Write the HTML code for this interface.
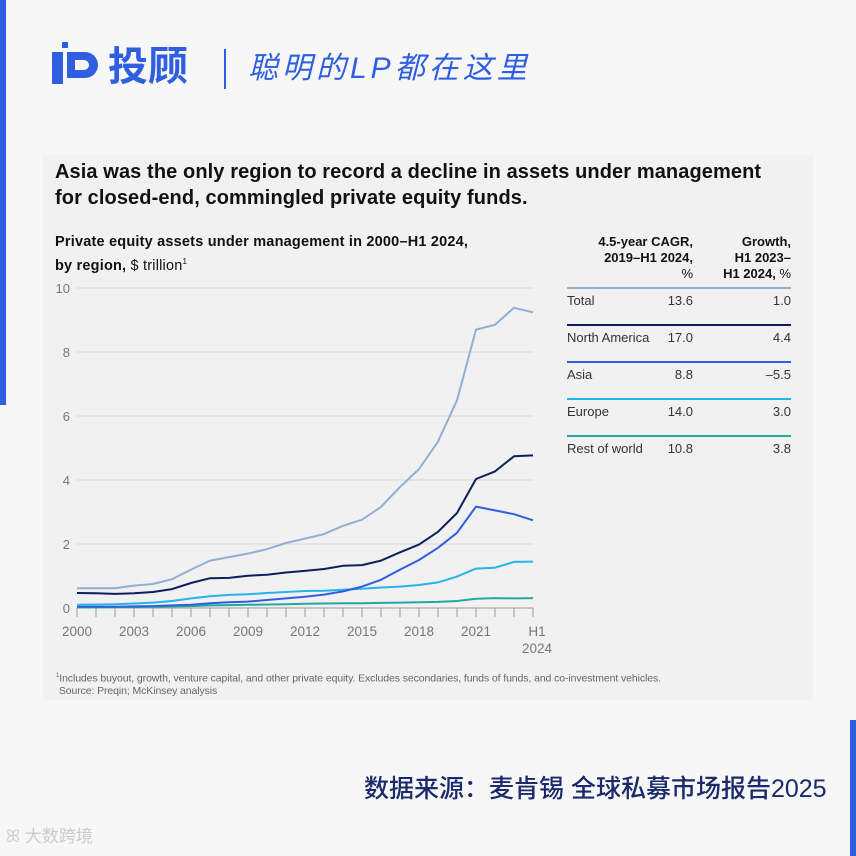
<!DOCTYPE html>
<html><head><meta charset="utf-8"><style>
*{margin:0;padding:0;box-sizing:border-box}
body{width:856px;height:856px;background:#f7f7f7;position:relative;overflow:hidden;font-family:"Liberation Sans","Noto Sans CJK SC",sans-serif}
.abs{position:absolute}
</style></head><body>
<div class="abs" style="left:0;top:0;width:6px;height:405px;background:#2f5fe0"></div>
<div class="abs" style="left:850px;top:720px;width:6px;height:136px;background:#2f5fe0"></div>
<div class="abs" style="left:50px;top:38px;width:52px;height:50px">
<svg width="52" height="50"><rect x="2" y="14" width="11" height="32" fill="#2f5fe0"/><rect x="12" y="4" width="6" height="6" fill="#2f5fe0"/><path d="M17 14h18a13 13 0 0 1 0 26h-18z M25 22v10h9a5 5 0 0 0 0-10z" fill="#2f5fe0" fill-rule="evenodd"/></svg></div>
<div class="abs" style="left:108px;top:44px;font-size:40px;font-weight:bold;color:#2f5fe0;line-height:46px">投顾</div>
<div class="abs" style="left:224px;top:49px;width:2px;height:40px;background:#2f5fe0"></div>
<div class="abs" style="left:248px;top:49px;font-size:30px;font-style:italic;color:#2f5fe0;letter-spacing:4px;line-height:40px">聪明的LP都在这里</div>

<div class="abs" style="left:43px;top:155px;width:770px;height:545px;background:#f1f1f1"></div>
<div class="abs" style="left:55px;top:159px;font-size:20px;font-weight:bold;color:#111;line-height:26px;letter-spacing:0.1px">Asia was the only region to record a decline in assets under management<br>for closed-end, commingled private equity funds.</div>
<div class="abs" style="left:55px;top:233px;font-size:14.5px;color:#111;line-height:19px;letter-spacing:0.2px"><b>Private equity assets under management in 2000–H1 2024,<br>by region,</b> $ trillion<sup style="font-size:8px">1</sup></div>

<svg class="abs" style="left:0;top:0" width="856" height="856" id="chart"></svg>

<div class="abs" style="left:560px;top:234px;width:133px;text-align:right;font-size:13px;font-weight:bold;color:#111;line-height:16px">4.5-year CAGR,<br>2019–H1 2024,<br><span style="font-weight:normal">%</span></div>
<div class="abs" style="left:700px;top:234px;width:91px;text-align:right;font-size:13px;font-weight:bold;color:#111;line-height:16px">Growth,<br>H1 2023–<br>H1 2024, <span style="font-weight:normal">%</span></div>
<div id="table"></div>

<div class="abs" style="left:56px;top:670px;font-size:10.5px;color:#666;line-height:12px;letter-spacing:-0.1px"><sup style="font-size:6px">1</sup>Includes buyout, growth, venture capital, and other private equity. Excludes secondaries, funds of funds, and co-investment vehicles.<br>&nbsp;Source: Preqin; McKinsey analysis</div>
<div class="abs" style="left:364px;top:772px;font-size:25px;color:#1a2a6a;line-height:34px;font-weight:500">数据来源：麦肯锡 全球私募市场报告2025</div>
<div class="abs" style="left:6px;top:826px;font-size:17px;color:#ccc;line-height:22px">ꕤ 大数跨境</div>

<script>
const years=['2000','2001','2002','2003','2004','2005','2006','2007','2008','2009','2010','2011','2012','2013','2014','2015','2016','2017','2018','2019','2020','2021','2022','2023','H1 2024'];
const xLabels=['2000','2003','2006','2009','2012','2015','2018','2021'];
const yTicks=[0,2,4,6,8,10];
const totalVals=[0.62,0.62,0.62,0.70,0.75,0.90,1.20,1.48,1.59,1.70,1.84,2.03,2.17,2.31,2.57,2.76,3.16,3.78,4.34,5.20,6.49,8.70,8.85,9.38,9.24];
const naVals=[0.47,0.46,0.44,0.46,0.50,0.59,0.78,0.93,0.94,1.01,1.04,1.11,1.16,1.22,1.32,1.34,1.48,1.74,1.98,2.38,2.97,4.03,4.27,4.74,4.77];
const asiaVals=[0.04,0.04,0.04,0.05,0.06,0.08,0.10,0.15,0.18,0.20,0.25,0.30,0.35,0.42,0.52,0.67,0.88,1.20,1.50,1.88,2.35,3.17,3.05,2.93,2.74];
const europeVals=[0.10,0.11,0.12,0.14,0.17,0.22,0.30,0.37,0.41,0.43,0.47,0.50,0.53,0.54,0.57,0.60,0.64,0.67,0.72,0.80,0.98,1.23,1.26,1.44,1.45];
const rowVals=[0.02,0.02,0.03,0.03,0.04,0.05,0.06,0.08,0.09,0.10,0.11,0.12,0.13,0.14,0.15,0.15,0.16,0.17,0.18,0.19,0.22,0.29,0.31,0.30,0.31];
const regions=['Total','North America','Asia','Europe','Rest of world'];
const cagrVals=['13.6','17.0','8.8','14.0','10.8'];
const growthVals=['1.0','4.4','–5.5','3.0','3.8'];
const colors=['#8fb0d3','#0d1f5c','#2f5fe0','#27b4ea','#23aaa0'];
const seriesList=[totalVals,naVals,asiaVals,europeVals,rowVals];
const seriesNames=['total-line','north-america-line','asia-line','europe-line','rest-of-world-line'];

const NS='http://www.w3.org/2000/svg';
const svg=document.getElementById('chart');
const X0=77,X1=533,Y0=608,YT=288;
const xs=i=>X0+(X1-X0)*i/(years.length-1);
const ys=v=>Y0-(Y0-YT)*v/10;
function mk(tag,attrs){const e=document.createElementNS(NS,tag);for(const k in attrs)e.setAttribute(k,attrs[k]);svg.appendChild(e);return e;}
yTicks.forEach(t=>{
  const g=mk('line',{x1:X0,x2:X1,y1:ys(t),y2:ys(t),stroke:t===0?'#999':'#d8d8d8','stroke-width':1});
  
  
  const tx=mk('text',{x:70,y:ys(t)+5,'text-anchor':'end','font-size':13,fill:'#777','font-family':'Liberation Sans'});
  tx.textContent=t;
  
  
});
years.forEach((y,i)=>{
  const tk=mk('line',{x1:xs(i),x2:xs(i),y1:Y0,y2:Y0+9,stroke:'#999','stroke-width':1});
  
  
});
xLabels.forEach(l=>{
  const i=years.indexOf(l);
  const tx=mk('text',{x:xs(i),y:Y0+28,'text-anchor':'middle','font-size':13.5,fill:'#777','font-family':'Liberation Sans'});
  tx.textContent=l;
  
  
});
const lastLbl=years[years.length-1].split(' ');
lastLbl.forEach((p,k)=>{
  const tx=mk('text',{x:X1+4,y:Y0+28+k*17,'text-anchor':'middle','font-size':13.5,fill:'#777','font-family':'Liberation Sans'});
  tx.textContent=p;
  
  
});
for(let s=seriesList.length-1;s>=0;s--){
  const d=seriesList[s].map((v,i)=>(i?'L':'M')+xs(i).toFixed(1)+' '+ys(v).toFixed(1)).join(' ');
  const p=mk('path',{d:d,fill:'none',stroke:colors[s],'stroke-width':2,'stroke-linejoin':'round'});
  
  
}
const tb=document.getElementById('table');
regions.forEach((r,i)=>{
  const top=287+i*37;
  const row=document.createElement('div');
  row.className='abs';
  row.style.cssText=`left:567px;top:${top}px;width:224px;height:30px;border-top:2px solid ${colors[i]};font-size:13px;color:#333`;
  
  
  row.innerHTML=`<span style="position:absolute;left:0;top:4px">${r}</span><span style="position:absolute;right:98px;top:4px">${cagrVals[i]}</span><span style="position:absolute;right:0;top:4px">${growthVals[i]}</span>`;
  tb.appendChild(row);
});
</script>
</body></html>
